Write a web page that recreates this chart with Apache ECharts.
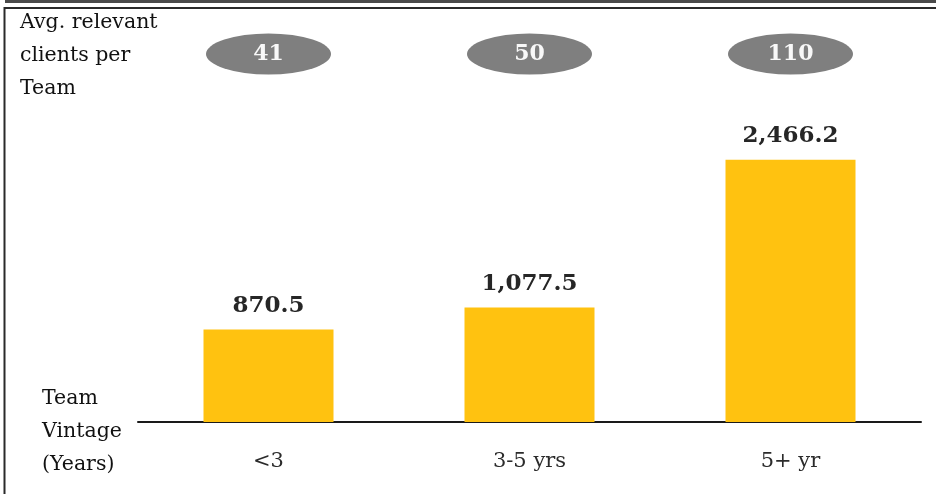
<!DOCTYPE html>
<html>
<head>
<meta charset="utf-8">
<script src="https://cdn.jsdelivr.net/npm/echarts@6/dist/echarts.min.js"></script>
<style>
html,body{margin:0;padding:0;background:#fff;}
#chart{width:936px;height:494px;}
</style>
</head>
<body>
<div id="chart"></div>
<script>
var categories = ['<3', '3-5 yrs', '5+ yr'];
var avgValues = [870.5, 1077.5, 2466.2];
var clientsPerTeam = [41, 50, 110];
var topLabelLines = ['Avg. relevant', 'clients per', 'Team'];
var bottomLabelLines = ['Team', 'Vintage', '(Years)'];

var serif = '"DejaVu Serif", "Liberation Serif", serif';
var chart = echarts.init(document.getElementById('chart'));

function fmt(v) {
  return v.toLocaleString('en-US', {minimumFractionDigits: 1, maximumFractionDigits: 1});
}

var graphics = [
  {type: 'line', shape: {x1: 5, y1: 1.5, x2: 936, y2: 1.5}, style: {stroke: '#4a4a4a', lineWidth: 3}, silent: true},
  {type: 'rect', shape: {x: 4.5, y: 8, width: 960, height: 520}, style: {fill: 'none', stroke: '#2a2a2a', lineWidth: 2}, silent: true}
];
topLabelLines.forEach(function (t, i) {
  graphics.push({type: 'text', left: 20, top: 12 + i * 33, style: {text: t, font: '20.5px ' + serif, fill: '#111'}});
});
bottomLabelLines.forEach(function (t, i) {
  graphics.push({type: 'text', left: 42, top: 388 + i * 33, style: {text: t, font: '20.5px ' + serif, fill: '#111'}});
});

chart.setOption({
  animation: false,
  grid: [
    {left: 138, right: 15, top: 103, bottom: 72},
    {left: 138, right: 15, top: 32, height: 44}
  ],
  xAxis: [
    {
      type: 'category', data: categories, gridIndex: 0,
      axisLine: {lineStyle: {color: '#1a1a1a', width: 2}},
      axisTick: {show: false},
      axisLabel: {color: '#2b2b2b', fontFamily: serif, fontSize: 21, margin: 29}
    },
    {type: 'category', data: categories, gridIndex: 1, show: false}
  ],
  yAxis: [
    {type: 'value', min: 0, max: 3000, gridIndex: 0, show: false},
    {type: 'value', min: 0, max: 1, gridIndex: 1, show: false}
  ],
  series: [
    {
      type: 'bar', data: avgValues, xAxisIndex: 0, yAxisIndex: 0,
      barWidth: 130,
      itemStyle: {color: '#ffc210'},
      label: {
        show: true, position: 'top', distance: 12,
        formatter: function (p) { return fmt(p.value); },
        fontFamily: serif, fontWeight: 'bold', fontSize: 23, color: '#262626'
      }
    },
    {
      type: 'scatter', xAxisIndex: 1, yAxisIndex: 1,
      data: clientsPerTeam.map(function (v, i) { return [i, 0.5]; }),
      symbol: 'circle', symbolSize: [125, 41],
      itemStyle: {color: '#7f7f7f', opacity: 1},
      label: {
        show: true, position: 'inside',
        formatter: function (p) { return String(clientsPerTeam[p.dataIndex]); },
        fontFamily: serif, fontWeight: 'bold', fontSize: 22, color: '#f8f8f8'
      }
    }
  ],
  graphic: graphics
});
</script>
</body>
</html>
